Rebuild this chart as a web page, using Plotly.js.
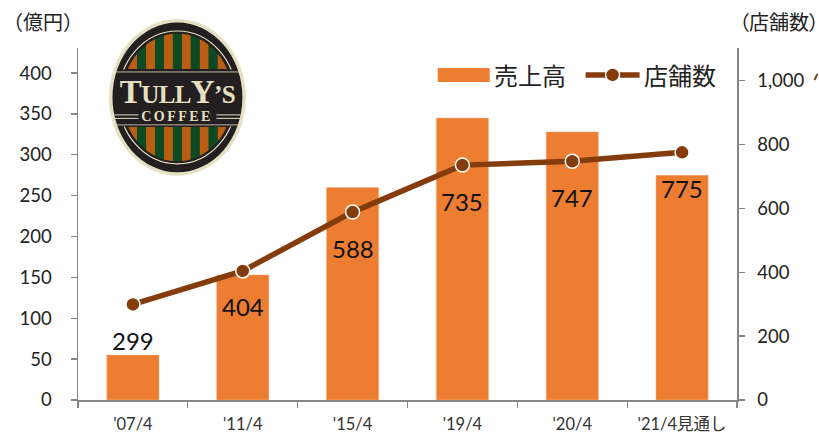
<!DOCTYPE html>
<html><head><meta charset="utf-8">
<script src="https://cdn.plot.ly/plotly-3.0.1.min.js"></script>
<style>html,body{margin:0;padding:0;background:#fff;overflow:hidden}</style>
</head><body><div id="chart" style="width:819px;height:435px"></div>
<script>
const categories = ["'07/4","'11/4","'15/4","'19/4","'20/4","'21/4見通し"];
const sales = [55,153,260,345,328,275];
const stores = [299,404,588,735,747,775];
const salesName = "売上高", storesName = "店舗数";
const W=819,H=435,L=78,R=737.5,T=48,B=400.5;
const px=x=>(x-L)/(R-L), py=y=>(B-y)/(B-T);
const LAT="Lato, 'Noto Sans CJK JP', sans-serif", CJK="'Noto Sans CJK JP', sans-serif";
const ORANGE="#ED7D31", BROWN="#843C0C";

function logo(){
  const cx=70,cy=80,o='#B85F14',g='#0B4A22',cr='#E6E0C2';
  let st='';
  for(let i=0;i<11;i++){st+=`<rect x="${20.7+i*8.96}" y="0" width="8.96" height="160" fill="${i%2?g:o}"/>`;}
  const svg=`<svg xmlns="http://www.w3.org/2000/svg" width="140" height="160" viewBox="0 0 140 160">
<defs><clipPath id="w"><path d="M0 16H140V51.5H0ZM0 109.5H140V146H0Z"/></clipPath>
<clipPath id="e"><ellipse cx="${cx}" cy="${cy}" rx="55.5" ry="64"/></clipPath>
<clipPath id="r"><path d="M0 0H140V52H0ZM0 109H140V160H0Z"/></clipPath></defs>
<ellipse cx="${cx}" cy="${cy}" rx="68.5" ry="78.5" fill="${cr}"/>
<ellipse cx="${cx}" cy="${cy}" rx="65" ry="75" fill="#231F20"/>
<g clip-path="url(#e)"><g clip-path="url(#w)">${st}</g></g>
<g clip-path="url(#r)"><ellipse cx="${cx}" cy="${cy}" rx="59" ry="66.5" fill="none" stroke="${cr}" stroke-width="1.2"/></g>
<path d="M5 54.5H135M5 107.5H135" stroke="${cr}" stroke-width="0.8"/>
<path d="M7 97.5H31M7 101H31M109 97.5H133M109 101H133" stroke="${cr}" stroke-width="1"/>
</svg>`;
  return 'data:image/svg+xml;base64,'+btoa(svg);
}

const traces=[
 {type:'bar',x:categories,y:sales,name:salesName,yaxis:'y',marker:{color:ORANGE,line:{color:'#F4B183',width:0.5}},showlegend:false,cliponaxis:false},
 {type:'scatter',mode:'lines+markers',x:categories,y:stores,name:storesName,yaxis:'y2',line:{color:BROWN,width:5.5},
  marker:{color:BROWN,size:14,line:{color:'#fff',width:1.5}},showlegend:false}
];
const anns=stores.map((v,i)=>({x:categories[i],y:v,xref:'x',yref:'y2',yshift:-36,text:String(v),showarrow:false,font:{family:LAT,size:24,color:'#111'}}));
const P=(x,y,text,size,anchor,fam,col)=>({xref:'paper',yref:'paper',x:px(x),y:py(y),xanchor:anchor,yanchor:'middle',text,showarrow:false,font:{family:fam||CJK,size,color:col||'#222'}});
anns.push(P(1,21,"（億円）",20,'left'));
anns.push(P(727,21,"（店舗数）",20,'left'));
anns.push(P(492.5,75,salesName,24,'left'));
anns.push(P(642.5,75,storesName,24,'left'));
anns.push(P(178,92,"<span style='font-size:33px'>T</span>ULL<span style='font-size:33px'>Y</span>’S",25,'center',"'Liberation Serif', serif",'#E6E0C2'));
anns.push(P(177.5,117,"COFFEE",14,'center',"'Liberation Serif', serif",'#E6E0C2'));

const shapes=[
 {type:'rect',xref:'paper',yref:'paper',x0:px(438),x1:px(490),y0:py(82),y1:py(68),fillcolor:ORANGE,line:{width:0}},
 {type:'line',xref:'paper',yref:'paper',x0:px(586),x1:px(640),y0:py(75),y1:py(75),line:{color:BROWN,width:5.5}},
 {type:'circle',xref:'paper',yref:'paper',x0:px(606),x1:px(620),y0:py(82),y1:py(68),fillcolor:BROWN,line:{color:'#fff',width:1.5}},
 {type:'line',xref:'paper',yref:'paper',x0:px(815),x1:px(818),y0:py(80),y1:py(74),line:{color:'#7a4a1a',width:2}}
];
const layout={
 width:W,height:H,margin:{l:L,r:W-R,t:T,b:H-B,pad:0},paper_bgcolor:'#fff',plot_bgcolor:'#fff',showlegend:false,bargap:0.525,
 font:{family:LAT,color:'#222'},
 xaxis:{type:'category',tickson:'boundaries',ticks:'outside',ticklen:6,tickcolor:'#868686',tickwidth:1.3,showline:true,linecolor:'#868686',linewidth:1.5,
   tickfont:{family:LAT,size:16.5,color:'#333'},showgrid:false,zeroline:false,tickangle:0,ticklabelstandoff:9},
 yaxis:{range:[0,430.7],tickvals:[0,50,100,150,200,250,300,350,400],ticks:'outside',ticklen:6,tickcolor:'#868686',tickwidth:1.3,showline:true,linecolor:'#868686',linewidth:1.5,
   tickfont:{family:LAT,size:18.5,color:'#222'},showgrid:false,zeroline:false,ticklabelstandoff:15},
 yaxis2:{range:[0,1101.5],overlaying:'y',side:'right',tickvals:[0,200,400,600,800,1000],tickformat:',d',ticks:'outside',ticklen:6,tickcolor:'#868686',tickwidth:1.3,showline:true,linecolor:'#868686',linewidth:1.5,
   tickfont:{family:LAT,size:18.5,color:'#222'},showgrid:false,zeroline:false,ticklabelstandoff:9},
 annotations:anns,shapes:shapes,
 images:[{source:logo(),xref:'paper',yref:'paper',x:px(107.5),y:py(17.5),sizex:140/(R-L),sizey:160/(B-T),xanchor:'left',yanchor:'top',sizing:'stretch',layer:'above'}]
};
Plotly.newPlot('chart',traces,layout,{displayModeBar:false,staticPlot:true}).then(()=>{
  document.querySelectorAll('.annotation-text').forEach(t=>{
    if(t.textContent==='COFFEE'){t.style.letterSpacing='2.5px';t.style.fontWeight='700';}
    if(t.textContent==='（店舗数）'){t.style.fontFeatureSettings='"palt"';}
    if(t.textContent.indexOf('ULL')>=0){t.style.letterSpacing='-0.6px';t.style.fontWeight='700';}
  });
});
</script></body></html>
